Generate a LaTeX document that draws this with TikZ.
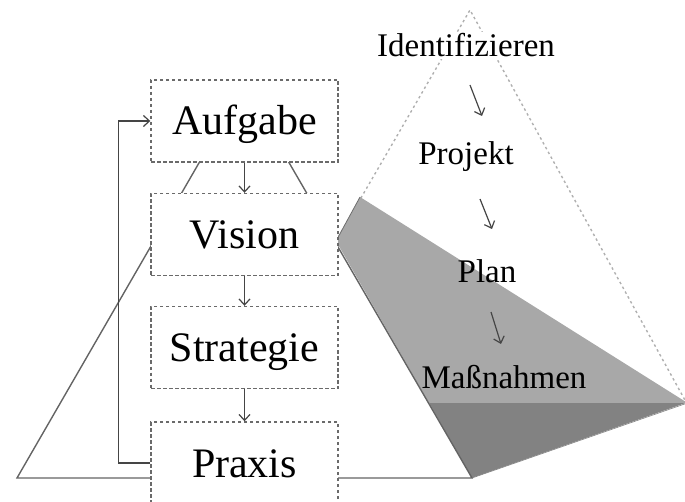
\documentclass[tikz,border=0pt]{standalone}
\usepackage{fontspec}
\setmainfont{Liberation Serif}
\usetikzlibrary{arrows.meta}
\definecolor{frameline}{HTML}{6A6A6A}
\definecolor{pyramidline}{HTML}{646464}
\definecolor{flowline}{HTML}{454545}
\definecolor{hintline}{HTML}{B0B0B0}
\definecolor{wedgelight}{HTML}{A8A8A8}
\definecolor{wedgedark}{HTML}{828282}
\tikzset{
  stagebox/.style={draw=frameline, dash pattern=on 3.5pt off 2.5pt, line width=1.4pt,
    fill=white, minimum width=187pt, minimum height=82pt, inner sep=0pt,
    font=\fontsize{42}{48}\selectfont, text height=28pt, text depth=0pt},
  flow/.style={draw=flowline, line width=1.2pt, -{Straight Barb[length=6pt,width=11pt]}},
  phase/.style={font=\fontsize{33}{40}\selectfont, anchor=base, inner sep=0pt}
}
\begin{document}
\begin{tikzpicture}[x=1pt,y=-1pt]
\useasboundingbox (0,0) rectangle (685,502);

% corner points of the shaded wedge and the dashed outline
\coordinate (tl) at (360,197);
\coordinate (lv) at (336,241);
\coordinate (bt) at (472,478);
\coordinate (rt) at (686,402);
\coordinate (md) at (429.5,403);
\coordinate (top) at (470,10);

% dashed outline of the upper triangle
\draw[hintline, line width=1.4pt, dash pattern=on 2.5pt off 3pt] (lv) -- (top) -- (rt);

% shaded wedge, lighter above and darker below
\fill[wedgelight] (tl) -- (rt) -- (686,478) -- (bt) -- (lv) -- cycle;
\fill[wedgedark] (md) -- (686,403) -- (bt) -- cycle;
\fill[white] (bt) -- (686,403) -- (686,502) -- (472,502) -- cycle;
\draw[wedgedark!85!black, line width=0.8pt] (lv) -- (tl);
\draw[wedgedark, line width=0.6pt] (686,403.5) -- (bt);

% large triangle behind the stages
\coordinate (apex) at (244,85);
\coordinate (bl) at (17,478);
\draw[pyramidline, line width=1.4pt] (bl) -- (apex) -- (bt) -- cycle;

% stages
\node[stagebox] (aufgabe) at (244.5,121) {Aufgabe};
\node[stagebox] (vision) at (244.5,234.5) {Vision};
\node[stagebox] (strategie) at (244.5,347.5) {Strategie};
\node[stagebox] (praxis) at (244.5,463) {Praxis};

\draw[flow] (aufgabe) -- (vision);
\draw[flow] (vision) -- (strategie);
\draw[flow] (strategie) -- (praxis);
\draw[flow] (praxis.west) -- ++(-32,0) |- (aufgabe.west);

% steps inside the upper triangle
\node[phase, fill=white, inner sep=2pt] (ident) at (466,57) {Identifizieren};
\node[phase] (projekt) at (466,165) {Projekt};
\node[phase] (plan) at (487,283) {Plan};
\node[phase] (massn) at (504,388) {Maßnahmen};

\coordinate (s1a) at (470,85);  \coordinate (s1b) at (482,116);
\coordinate (s2a) at (480,199); \coordinate (s2b) at (492,229);
\coordinate (s3a) at (491,312); \coordinate (s3b) at (501,344);
\draw[flow] (s1a) -- (s1b);
\draw[flow] (s2a) -- (s2b);
\draw[flow] (s3a) -- (s3b);
\end{tikzpicture}
\end{document}
